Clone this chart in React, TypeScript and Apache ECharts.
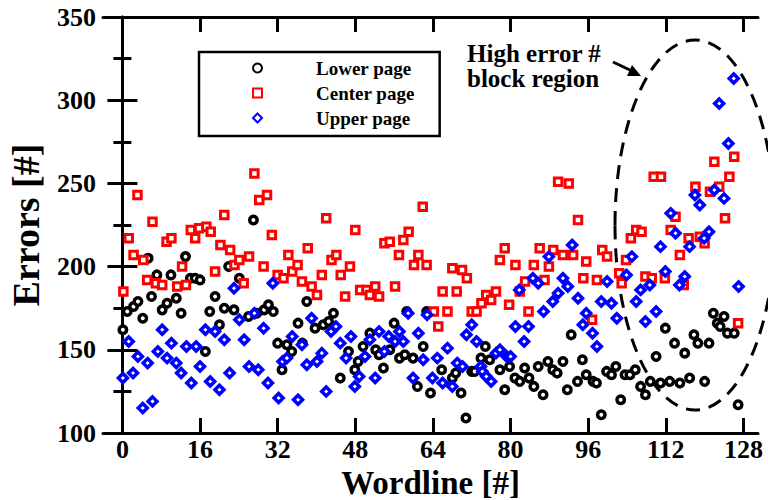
import React, { useEffect, useRef } from "react";
import * as echarts from "echarts";

const seriesNames = ["Lower page", "Center page", "Upper page"];
const xTickValues = [0, 16, 32, 48, 64, 80, 96, 112, 128];

const lowerPage: number[][] = [
  [0.1,162],[1,173],[2.3,176],[3.2,179],[4.2,169],[5.3,205],[6,182],[7.1,195],[8.2,174],[9.2,178],[10,195],[11.1,181],[12.1,172],[13,206],[14,193],[15,193],[16,192],[17.1,149],[18,173],[19.1,182],[20,165],[21,175],[21.9,200],[23,174],[24.1,193],[26,170],[27,228],[27.7,172],[29.2,174],[30.1,177],[31.1,173],[32,154],[32.9,138],[33.9,153],[34.9,149],[36.2,166],[37.1,154],[38,179],[39.7,163],[41.4,165],[42.5,167],[43.5,172],[44.9,133],[46.6,149],[47.9,138],[48.6,143],[49.6,152],[51,160],[52.2,150],[52.9,147],[53.8,139],[55.1,150],[56,166],[57.1,145],[58.2,147],[58.6,173],[59.9,145],[60.8,128],[62,152],[62.7,173],[63.5,124],[65.8,138],[68,133],[68.7,136],[69.8,124],[70.8,109],[72,137],[72.6,137],[73.9,145],[74.8,152],[75.7,144],[77.8,138],[78.8,126],[79.8,140],[80.9,133],[81.9,131],[82.9,139],[83.8,133],[84.8,128],[85.7,140],[86.7,123],[87.7,143],[88.7,138],[89.6,136],[90.8,143],[91.7,126],[92.5,159],[93.8,131],[94.8,144],[95.6,135],[97,131],[97.7,130],[98.7,111],[99.8,137],[100.8,135],[101.7,140],[102.7,120],[103.6,135],[104.6,135],[105.7,138],[106.8,128],[107.8,123],[108.8,131],[110,146],[110.9,130],[111.9,163],[112.8,131],[113.8,154],[114.9,130],[115.9,148],[116.9,133],[117.8,159],[118.6,154],[120,131],[120.9,154],[121.8,172],[122.6,166],[123.2,164],[124,170],[124.7,160],[126.1,160],[126.9,117]
];

const centerPage: number[][] = [
  [0.2,185],[1.3,217],[2.3,207],[3.1,243],[4.3,204],[5.1,192],[6.2,227],[6.9,190],[8.2,189],[9.1,215],[10.1,217],[11.3,188],[12.3,200],[13.1,189],[14.1,222],[15,217],[15.8,223],[17.3,224],[18.2,221],[19.1,197],[20.2,213],[21,231],[22.2,210],[23.1,201],[24.1,204],[25,190],[26.1,206],[27.2,256],[28.2,240],[29.1,200],[29.8,243],[30.8,219],[32,195],[33.2,193],[34.2,207],[35,197],[36.1,201],[37,191],[38.2,211],[39,188],[40.1,183],[41.1,195],[42,229],[43.1,204],[44.1,207],[45,195],[45.9,182],[46.9,200],[48,222],[49,186],[50.3,186],[51,183],[52.1,188],[52.9,182],[54,214],[55.1,215],[56.2,188],[57,207],[57.9,216],[59,221],[60.1,201],[61,207],[61.9,236],[62.7,201],[64.2,173],[65.1,164],[66,185],[67,173],[68,199],[68.9,185],[70,198],[71,193],[72,173],[73,173],[74,178],[75,183],[76,180],[77,185],[77.8,204],[78.8,211],[79.7,177],[81,201],[81.9,185],[83,191],[83.7,173],[84.8,201],[86,211],[87,192],[87.9,200],[88.8,210],[89.8,251],[90.8,207],[92,250],[92.9,207],[93.9,228],[95,193],[95.6,203],[96.8,168],[97.8,192],[98.9,210],[99.9,206],[102.4,196],[102.9,190],[103.8,204],[104.8,217],[105.9,222],[107,221],[107.8,194],[109.1,193],[109.5,254],[111,254],[111.8,193],[113,222],[114,230],[114.9,207],[115.7,189],[116.7,217],[118.1,248],[119,218],[120,214],[121.1,245],[122,263],[123,248],[124.2,229],[125.1,254],[126.1,266],[126.9,166]
];

const upperPage: number[][] = [
  [0.1,133],[1.3,155],[2.2,136],[3.2,146],[4.2,115],[5.2,142],[6.2,119],[7.3,149],[8.2,162],[9.2,145],[10.1,154],[11.1,142],[12.1,136],[13.2,152],[14.2,130],[15.2,152],[16,140],[17.1,162],[18.1,131],[19.1,161],[20,126],[21,156],[22.1,136],[23,187],[24.1,168],[25.1,156],[26.1,140],[27.2,172],[28,138],[29.1,163],[30,130],[31,190],[32.2,121],[33,143],[33.9,145],[35,158],[36.2,120],[37,153],[38,141],[39,169],[40.1,143],[41.1,148],[42,125],[43,161],[44,164],[44.9,154],[46.1,145],[47.1,158],[47.9,128],[48.8,134],[50,146],[51,156],[52.1,133],[52.9,161],[54,149],[54.9,158],[56.2,155],[57.1,161],[57.9,155],[58.9,172],[59.9,133],[61,160],[62,144],[62.8,171],[63.9,133],[64.9,145],[66,130],[67,151],[68,128],[69,142],[70.1,140],[70.9,159],[72,165],[73,155],[73.9,140],[74.2,137],[75,134],[76,131],[77,148],[77.8,150],[79.2,146],[80,146],[81,164],[81.8,186],[82.8,155],[83.7,164],[84.6,193],[85.7,190],[86.8,173],[87.9,206],[88.7,179],[89.8,184],[90.8,193],[91.8,188],[92.7,213],[93.9,181],[94.9,165],[95.6,172],[96.9,160],[97.8,152],[98.7,179],[99.9,191],[100.8,178],[101.9,169],[103.9,195],[105,206],[105.9,179],[106.8,186],[107.8,167],[108.7,189],[110,173],[110.9,212],[111.9,197],[113,232],[114,220],[114.8,189],[115.9,194],[116.9,212],[118,243],[119,237],[119.9,217],[120.9,221],[122,246],[123,298],[124,241],[124.9,274],[126,313],[127,188]
];

const FONT = "'Liberation Serif', 'Times New Roman', serif";

export default function App() {
  const ref = useRef<HTMLDivElement>(null);
  useEffect(() => {
    if (!ref.current) return;
    const chart = echarts.init(ref.current, undefined, { renderer: "svg" });
    const axisLine = { show: true, lineStyle: { color: "#000", width: 3 } };
    const xTick = { show: true, inside: true, length: 15, lineStyle: { color: "#000", width: 3 }, customValues: xTickValues };
    const yTick = { show: true, inside: true, length: 15, lineStyle: { color: "#000", width: 3 } };
    const minorTick = { show: true, splitNumber: 2, length: 9, lineStyle: { color: "#000", width: 3 } };
    const labelStyle = { color: "#000", fontFamily: FONT, fontWeight: "bold" as const, fontSize: 26 };
    chart.setOption({
      animation: false,
      backgroundColor: "#fff",
      grid: { left: 103, right: 10, top: 17, bottom: 67, outerBoundsMode: "none", containLabel: false },
      legend: {
        left: 199,
        top: 52,
        orient: "vertical",
        data: seriesNames,
        itemWidth: 9,
        itemHeight: 9,
        itemGap: 5,
        padding: [6, 25, 8, 53],
        borderColor: "#000",
        borderWidth: 2.5,
        textStyle: { color: "#000", fontFamily: FONT, fontWeight: "bold", fontSize: 19, lineHeight: 20, padding: [0, 0, 0, 49] },
      },
      xAxis: [
        {
          type: "value", min: -4, max: 131, position: "bottom",
          axisLine, axisTick: xTick, splitLine: { show: false },
          axisLabel: { ...labelStyle, margin: 3, customValues: xTickValues },
          name: "Wordline [#]", nameLocation: "middle", nameGap: 25,
          nameTextStyle: { color: "#000", fontFamily: FONT, fontWeight: "bold", fontSize: 33, lineHeight: 33 },
        },
        {
          type: "value", min: -4, max: 131, position: "top",
          axisLine, axisTick: xTick, splitLine: { show: false },
          axisLabel: { show: false, customValues: xTickValues },
        },
      ],
      yAxis: [
        {
          type: "value", min: 100, max: 350, interval: 50, position: "left",
          axisLine, axisTick: yTick, minorTick, splitLine: { show: false }, minorSplitLine: { show: false },
          axisLabel: { ...labelStyle, margin: 7 },
          name: "Errors [#]", nameLocation: "middle", nameGap: 58,
          nameTextStyle: { color: "#000", fontFamily: FONT, fontWeight: "bold", fontSize: 38 },
        },
        {
          type: "value", min: 100, max: 350, interval: 50, position: "right",
          axisLine, axisTick: yTick, minorTick, splitLine: { show: false }, minorSplitLine: { show: false },
          axisLabel: { show: false },
        },
      ],
      series: [
        {
          name: seriesNames[0], type: "scatter", data: lowerPage, symbol: "circle", symbolSize: 7.5,
          itemStyle: { color: "#fff", borderColor: "#000", borderWidth: 3.5, opacity: 1 },
        },
        {
          name: seriesNames[1], type: "scatter", data: centerPage, symbol: "rect", symbolSize: 7.5,
          itemStyle: { color: "#fff", borderColor: "#ff0000", borderWidth: 3, opacity: 1 },
        },
        {
          name: seriesNames[2], type: "scatter", data: upperPage, symbol: "diamond", symbolSize: 9,
          itemStyle: { color: "#fff", borderColor: "#0000ff", borderWidth: 3.5, opacity: 1 },
        },
      ],
      graphic: [
        {
          type: "text", left: 467, top: 41,
          style: { text: "High error #\nblock region", fill: "#000", font: `bold 25px ${FONT}`, lineHeight: 25 },
        },
        {
          type: "line", shape: { x1: 613, y1: 62, x2: 632, y2: 71 },
          style: { stroke: "#000", lineWidth: 3 },
        },
        {
          type: "polygon", shape: { points: [[641, 76], [627, 76], [632, 65]] },
          style: { fill: "#000" },
        },
        {
          type: "ellipse", shape: { cx: 695, cy: 225, rx: 80, ry: 185 },
          style: { stroke: "#000", fill: "none", lineWidth: 3, lineDash: [14, 9] },
        },
      ],
    });
    return () => chart.dispose();
  }, []);
  return <div ref={ref} style={{ width: 768, height: 500, position: "absolute", left: 0, top: 0 }} />;
}
